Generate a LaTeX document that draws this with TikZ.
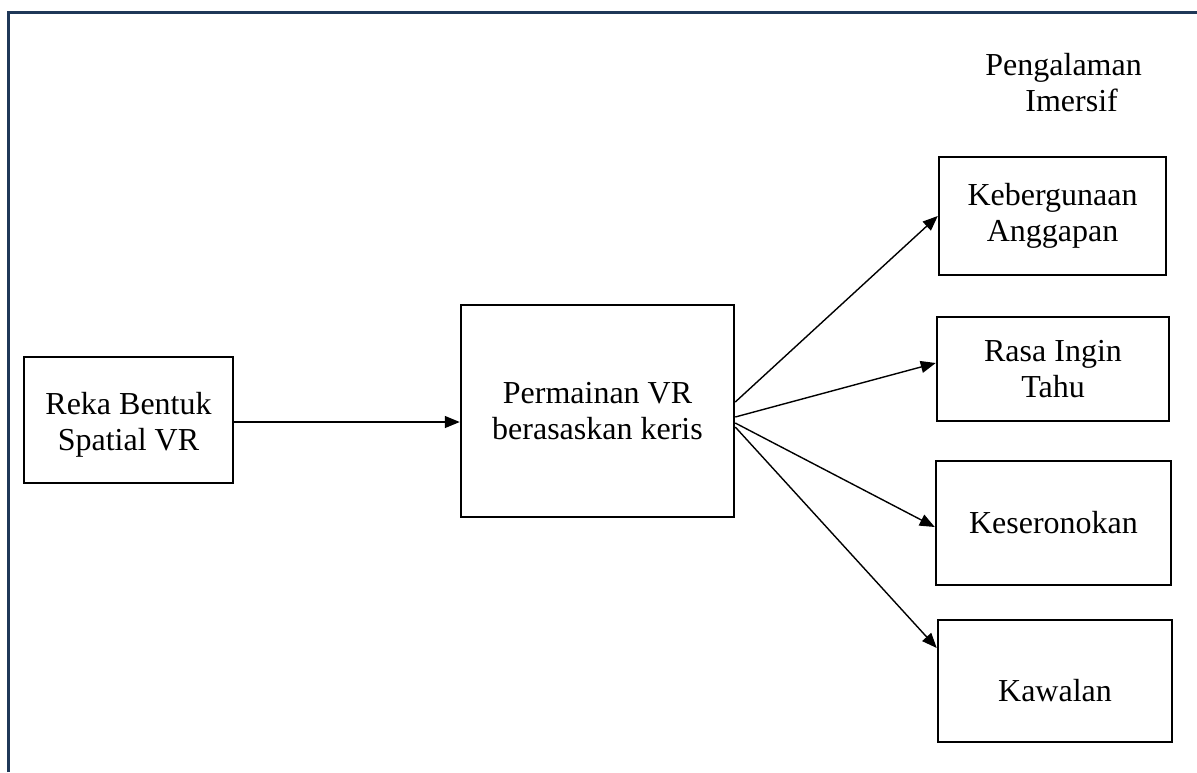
\documentclass[tikz,border=0pt]{standalone}
\usepackage{fontspec}
\setmainfont{Liberation Serif}
\usetikzlibrary{arrows.meta,calc}
\begin{document}
\begin{tikzpicture}[x=0.5pt,y=-0.5pt,
  box/.style={draw=black,line width=1.25pt,rectangle,align=center,inner sep=2pt,
    font=\fontsize{16}{18}\selectfont},
  lbl/.style={inner sep=0pt,font=\fontsize{16}{18}\selectfont},
  conn/.style={draw=black,line width=0.7pt,-{Triangle[length=7.5pt,width=6pt]}},
  frame/.style={draw={rgb,255:red,31;green,56;blue,88},line width=1.5pt}]
\useasboundingbox (0,0) rectangle (1197,772);
\draw[frame] (8,772) -- (8,12) -- (1197,12);
\node[box,minimum width=104.5pt,minimum height=63pt] (reka) at (128.5,420) {\raisebox{-2.5pt}[\height][\depth]{\begin{tabular}{@{}c@{}}Reka Bentuk\\Spatial VR\end{tabular}}};
\node[box,minimum width=136.5pt,minimum height=106pt] (perm) at (597.5,411) {Permainan VR\\berasaskan keris};
\node[box,minimum width=113.5pt,minimum height=59pt] (keb) at (1052.5,216) {Kebergunaan\\Anggapan};
\node[box,minimum width=116pt,minimum height=52pt] (rasa) at (1053,369) {Rasa Ingin\\Tahu};
\node[box,minimum width=117.5pt,minimum height=62pt] (kes) at (1053.5,523) {Keseronokan};
\node[box,minimum width=117pt,minimum height=61pt] (kaw) at (1055,681) {\raisebox{-5pt}[\height][\depth]{Kawalan}};
\node[lbl,anchor=base west] (pen1) at (985,75) {Pengalaman};
\node[lbl,anchor=base west] (pen2) at (1025,111) {Imersif};
\coordinate (s1) at ([yshift=4.5pt]perm.east);
\coordinate (s2) at ([yshift=-3pt]perm.east);
\coordinate (s3) at ([yshift=-6pt]perm.east);
\coordinate (s4) at ([yshift=-8pt]perm.east);
\coordinate (r0) at ([yshift=-1pt]reka.east);
\draw[conn] (r0) -- (r0 -| perm.west);
\draw[conn] (s1) -- (keb.west);
\draw[conn] (s2) -- ([yshift=3pt]rasa.west);
\draw[conn] (s3) -- ([yshift=-2pt]kes.west);
\draw[conn] (s4) -- ([yshift=16.5pt]kaw.west);
\end{tikzpicture}
\end{document}
